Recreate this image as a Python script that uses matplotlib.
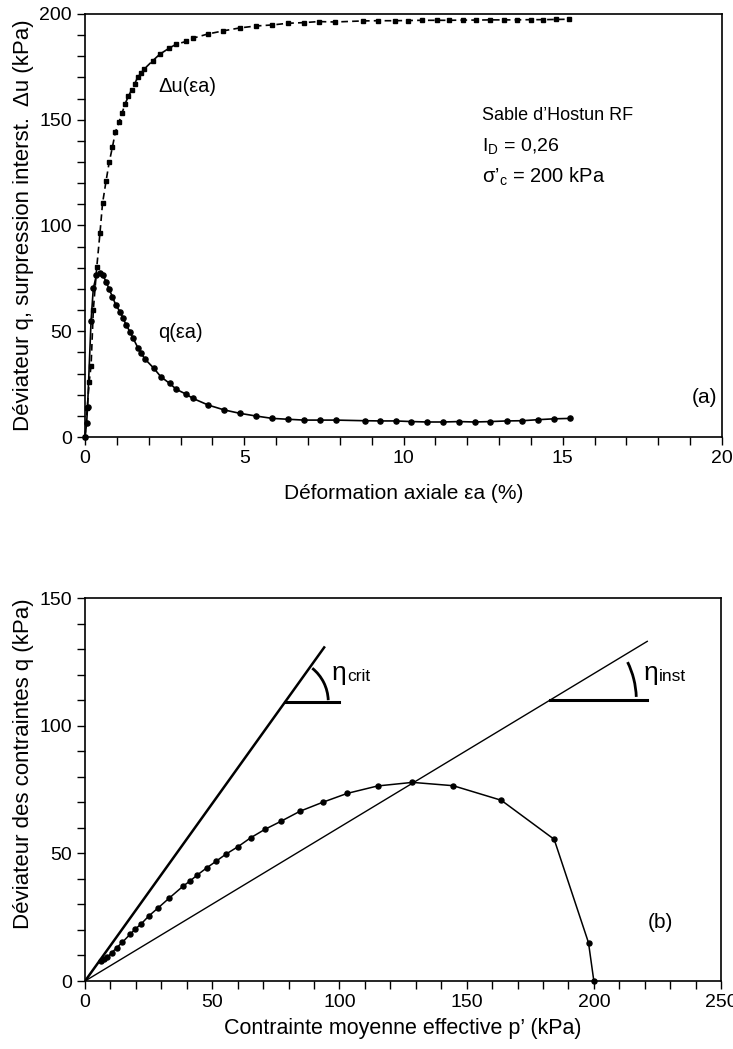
import matplotlib
matplotlib.use('Agg')
import matplotlib.pyplot as plt
from matplotlib.patches import Arc
from matplotlib.ticker import MultipleLocator

plt.rcParams['font.family'] = ['Liberation Sans', 'DejaVu Sans']
plt.rcParams['mathtext.fontset'] = 'custom'
plt.rcParams['mathtext.rm'] = 'Liberation Sans'

# (a) excess pore pressure vs axial strain
eps_du = [0, 0.07, 0.13, 0.19, 0.26, 0.37, 0.47, 0.55, 0.66, 0.76, 0.86, 0.95, 1.07, 1.16,
          1.26, 1.36, 1.46, 1.56, 1.65, 1.76, 1.86, 2.12, 2.35, 2.64, 2.85, 3.17, 3.38, 3.85,
          4.34, 4.86, 5.36, 5.88, 6.37, 6.87, 7.34, 7.84, 8.72, 9.19, 9.72, 10.14, 10.59,
          11.05, 11.44, 11.86, 12.28, 12.70, 13.17, 13.55, 14.0, 14.39, 14.79, 15.2]
du = [0, 13.7, 26, 33.7, 60, 80.5, 96.6, 110.5, 121, 130, 137, 144, 149, 153,
      157.6, 161, 164, 167, 170, 172, 174, 177.8, 181, 183.8, 185.6, 187, 188.5, 190.5,
      192, 193.4, 194.3, 194.8, 195.6, 195.9, 196.4, 196.2, 196.7, 196.8, 196.8, 196.9, 197,
      197, 197, 197.1, 197.1, 197.2, 197.2, 197.2, 197.3, 197.3, 197.4, 197.5]

# (a) deviator stress vs axial strain
eps_q = [0, 0.05, 0.08, 0.19, 0.26, 0.36, 0.46, 0.56, 0.66, 0.76, 0.86, 0.97, 1.10, 1.20,
         1.29, 1.41, 1.51, 1.67, 1.76, 1.88, 2.16, 2.38, 2.66, 2.87, 3.17, 3.38, 3.87, 4.37,
         4.86, 5.38, 5.88, 6.37, 6.87, 7.37, 7.87, 8.78, 9.27, 9.75, 10.25, 10.75, 11.24,
         11.73, 12.23, 12.73, 13.24, 13.73, 14.23, 14.72, 15.23]
q = [0, 6.5, 14.3, 55, 70.3, 76.5, 77.5, 76.5, 73.5, 69.8, 66.3, 62.3, 59.2, 56.1,
     53, 49.8, 46.7, 41.9, 39.6, 36.9, 32.5, 28.5, 25.3, 22.5, 20.3, 18.3, 15.1, 12.8,
     11.2, 9.9, 8.8, 8.4, 8.0, 8.0, 8.0, 7.7, 7.6, 7.6, 7.3, 7.1, 7.1,
     7.3, 7.1, 7.3, 7.6, 7.7, 8.2, 8.6, 8.8]

# (b) effective stress path
p_path = [6.2, 7.5, 8.8, 10.5, 12.4, 14.7, 17.7, 19.6, 22.0, 25.1, 28.8, 33.0, 38.6, 41.3,
          44.1, 47.8, 51.5, 55.4, 60.1, 65.1, 70.7, 76.9, 84.5, 93.4, 103.1, 115.0, 128.7,
          144.7, 163.6, 184.4, 197.9, 200]
q_path = [8.0, 8.5, 9.3, 11.1, 13.0, 15.2, 18.3, 20.2, 22.3, 25.5, 28.7, 32.4, 37.2, 39.2,
          41.5, 44.3, 46.9, 49.7, 52.6, 56.1, 59.4, 62.5, 66.5, 70.0, 73.5, 76.4, 77.8,
          76.5, 70.8, 55.5, 15.0, 0]

# slopes of the two lines through the origin
eta_crit = 1.39
eta_inst = 0.602
p_end_crit = 94
p_end_inst = 221

fig = plt.figure(figsize=(7.33, 10.49), dpi=100)
ax1 = fig.add_axes([0.116, 0.5834, 0.869, 0.4033])
ax2 = fig.add_axes([0.116, 0.0648, 0.8677, 0.3651])

# ---- top chart ----
ax1.plot(eps_du, du, color='black', lw=1.2, linestyle=(0, (4, 2.5)),
         marker='s', markersize=3.2, clip_on=False)
ax1.plot(eps_q, q, color='black', lw=1.2, marker='o', markersize=3.7, clip_on=False)

ax1.set_xlim(0, 20)
ax1.set_ylim(0, 200)
ax1.xaxis.set_major_locator(MultipleLocator(5))
ax1.xaxis.set_minor_locator(MultipleLocator(1))
ax1.yaxis.set_major_locator(MultipleLocator(50))
ax1.yaxis.set_minor_locator(MultipleLocator(10))
ax1.set_xlabel('Déformation axiale εa (%)', fontsize=15, labelpad=12)
ax1.set_ylabel('Déviateur q, surpression interst.  Δu (kPa)', fontsize=16)

ax1.text(2.3, 165.5, 'Δu(εa)', fontsize=14.5, va='center')
ax1.text(2.3, 49.6, 'q(εa)', fontsize=14.5, va='center')
ax1.text(12.45, 152.2, 'Sable d\u2019Hostun RF', fontsize=13, va='center')
ax1.text(12.45, 137.4, r'I$_\mathregular{D}$ = 0,26', fontsize=14, va='center')
ax1.text(12.45, 123.2, r'σ’$_\mathregular{c}$ = 200 kPa', fontsize=14.5, va='center')
ax1.text(19.45, 18.9, '(a)', fontsize=15, va='center', ha='center')

# ---- bottom chart ----
ax2.plot([0, p_end_crit], [0, eta_crit * p_end_crit], color='black', lw=1.8)
ax2.plot([0, p_end_inst], [0, eta_inst * p_end_inst], color='black', lw=1.0)
ax2.plot(p_path, q_path, color='black', lw=1.1, marker='o', markersize=3.6, clip_on=False)

# angle symbols
px_x = 636 / 250.0
px_y = 383 / 150.0
for eta, q_lev, r_px, length, th2, label, tx in [
        (eta_crit, 109.4, 43, 21, 51, 'crit', 97.0),
        (eta_inst, 110.1, 86, 38, 26, 'inst', 219.4)]:
    p0 = q_lev / eta
    ax2.plot([p0, p0 + length], [q_lev, q_lev], color='black', lw=2.2)
    ax2.add_patch(Arc((p0, q_lev), 2 * r_px / px_x, 2 * r_px / px_y,
                      theta1=2, theta2=th2, color='black', lw=2.0))
    ax2.text(tx, 120.8, 'η', fontsize=19, va='center')
    ax2.text(tx + 6.0, 119.3, label, fontsize=12.5, va='center')

ax2.text(226, 22.9, '(b)', fontsize=15, va='center', ha='center')

ax2.set_xlim(0, 250)
ax2.set_ylim(0, 150)
ax2.xaxis.set_major_locator(MultipleLocator(50))
ax2.xaxis.set_minor_locator(MultipleLocator(10))
ax2.yaxis.set_major_locator(MultipleLocator(50))
ax2.yaxis.set_minor_locator(MultipleLocator(10))
ax2.set_xlabel('Contrainte moyenne effective p’ (kPa)', fontsize=15.5, labelpad=5)
ax2.set_ylabel('Déviateur des contraintes q (kPa)', fontsize=16)
ax2.yaxis.set_label_coords(-0.08, 0.567)

for ax in (ax1, ax2):
    ax.tick_params(which='both', direction='out', width=1, labelsize=14)
    ax.tick_params(which='major', length=6)
    ax.tick_params(which='minor', length=6)
    for s in ax.spines.values():
        s.set_linewidth(1.2)
ax1.yaxis.set_label_coords(-0.08, 0.5)

fig.savefig('out.png', dpi=100)
